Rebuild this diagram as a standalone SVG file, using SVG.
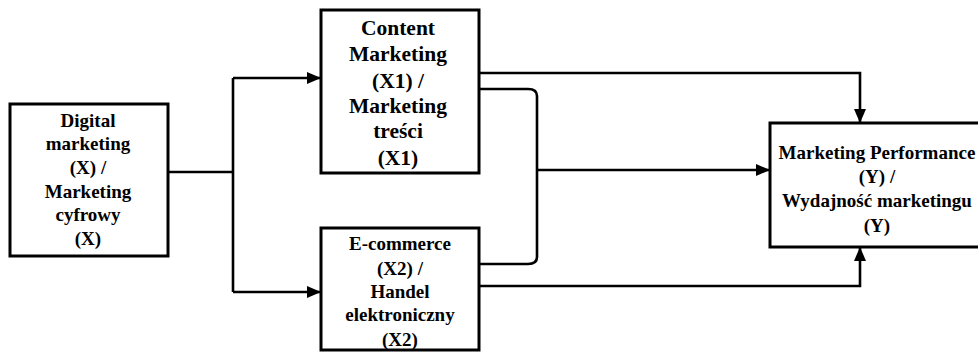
<svg xmlns="http://www.w3.org/2000/svg" width="978" height="352" viewBox="0 0 978 352">
<style>
.box{fill:#fff;stroke:#000;stroke-width:3}
.ln{fill:none;stroke:#000;stroke-width:2.6}
.t{font-family:"Liberation Serif","Times New Roman",serif;font-weight:bold;text-anchor:middle;fill:#000}
</style>
<defs>
<marker id="ah" markerWidth="14" markerHeight="12" refX="13" refY="6" orient="auto" markerUnits="userSpaceOnUse">
<path d="M0,0 L14,6 L0,12 Z" fill="#000"/>
</marker>
</defs>
<rect width="978" height="352" fill="#fff"/>
<g id="connectors">
<path class="ln" d="M168,172 H233"/>
<path class="ln" d="M233,78 V292"/>
<path class="ln" d="M233,78 H320" marker-end="url(#ah)"/>
<path class="ln" d="M233,292 H320" marker-end="url(#ah)"/>
<path class="ln" d="M479,73 H860 V122" marker-end="url(#ah)"/>
<path class="ln" d="M479,89 H528 Q537,89 537,96 V257 Q537,264 528,264 H479"/>
<path class="ln" d="M537,170 H769" marker-end="url(#ah)"/>
<path class="ln" d="M479,286 H860 V248" marker-end="url(#ah)"/>
</g>
<g id="digital">
<rect class="box" x="10" y="104" width="158" height="152"/>
<text class="t" font-size="19" x="88" y="127">Digital</text>
<text class="t" font-size="19" x="88" y="150">marketing</text>
<text class="t" font-size="19" x="88" y="174">(X) /</text>
<text class="t" font-size="19" x="88" y="198">Marketing</text>
<text class="t" font-size="19" x="88" y="221">cyfrowy</text>
<text class="t" font-size="19" x="88" y="245">(X)</text>
</g>
<g id="content">
<rect class="box" x="321" y="10" width="158" height="163"/>
<text class="t" font-size="21.5" x="398" y="35">Content</text>
<text class="t" font-size="21.5" x="398" y="61">Marketing</text>
<text class="t" font-size="21.5" x="398" y="88">(X1) /</text>
<text class="t" font-size="21.5" x="398" y="113">Marketing</text>
<text class="t" font-size="21.5" x="398" y="138">treści</text>
<text class="t" font-size="21.5" x="398" y="165">(X1)</text>
</g>
<g id="ecommerce">
<rect class="box" x="321" y="228" width="158" height="122"/>
<text class="t" font-size="19" x="400" y="250">E-commerce</text>
<text class="t" font-size="19" x="400" y="275">(X2) /</text>
<text class="t" font-size="19" x="400" y="298">Handel</text>
<text class="t" font-size="19" x="400" y="321">elektroniczny</text>
<text class="t" font-size="19" x="400" y="346">(X2)</text>
</g>
<g id="performance">
<rect class="box" x="770" y="123" width="220" height="124"/>
<text class="t" font-size="19" x="877" y="159">Marketing Performance</text>
<text class="t" font-size="19" x="877" y="183">(Y) /</text>
<text class="t" font-size="19" x="877" y="207">Wydajność marketingu</text>
<text class="t" font-size="19" x="877" y="232">(Y)</text>
</g>
</svg>
